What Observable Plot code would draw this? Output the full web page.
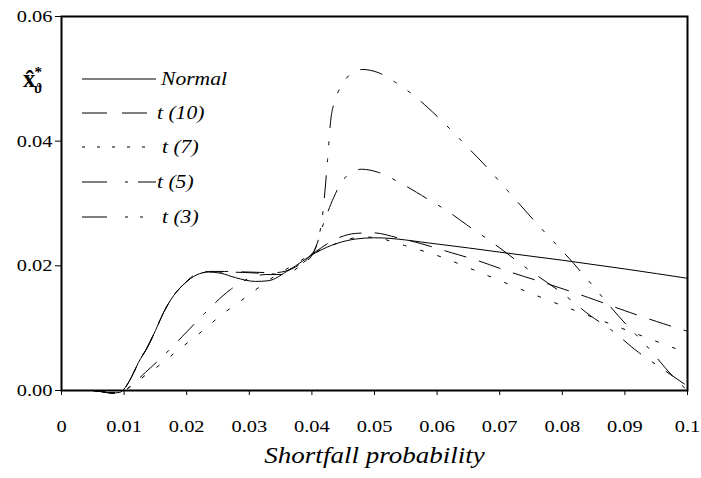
<!DOCTYPE html>
<html>
<head>
<meta charset="utf-8">
<script src="https://cdn.jsdelivr.net/npm/d3@7"></script>
<script src="https://cdn.jsdelivr.net/npm/@observablehq/plot@0.6"></script>
<style>
  html, body { margin: 0; padding: 0; background: #fff; }
  #chart { width: 701px; height: 478px; }
</style>
</head>
<body>
<div id="chart"></div>
<script>
// ---- data ----
const seriesNames = ["Normal", "t (10)", "t (7)", "t (5)", "t (3)"];

const normalX = [0.005,0.0065,0.008,0.0093,0.0102,0.0112,0.0123,0.0137,0.015,0.0163,0.0179,0.0198,0.0215,0.0235,0.0255,0.0278,0.031,0.033,0.0363,0.0406,0.044,0.047,0.05,0.06,0.07,0.08,0.09,0.1];
const normalY = [0,-0.0002,-0.0004,-0.0003,0.0005,0.0022,0.0045,0.0069,0.0096,0.0125,0.0152,0.0173,0.0185,0.019,0.0188,0.0181,0.0175,0.0176,0.0193,0.0221,0.0236,0.0243,0.0245,0.0235,0.0222,0.0209,0.0195,0.018];

const t10X = [0.005,0.0065,0.008,0.0093,0.0102,0.0112,0.0123,0.0137,0.015,0.0163,0.0179,0.0198,0.0215,0.0235,0.026,0.03,0.034,0.037,0.0405,0.0438,0.047,0.0498,0.0537,0.0573,0.0623,0.066,0.072,0.078,0.0842,0.09,0.0962,0.1];
const t10Y = [0,-0.0002,-0.0004,-0.0003,0.0005,0.0022,0.0045,0.0069,0.0096,0.0125,0.0152,0.0173,0.0187,0.0191,0.0191,0.019,0.0189,0.0196,0.0222,0.0243,0.0252,0.0253,0.0245,0.0236,0.0221,0.021,0.0189,0.017,0.0149,0.0128,0.0107,0.0095];

const t7X = [0.005,0.0065,0.008,0.0093,0.0105,0.0136,0.0161,0.0185,0.0211,0.0235,0.0259,0.0284,0.0308,0.034,0.037,0.04,0.044,0.047,0.05,0.053,0.056,0.059,0.0679,0.0767,0.085,0.1];
const t7Y = [0,-0.0002,-0.0004,-0.0003,0.0003,0.0026,0.0044,0.0064,0.0084,0.0104,0.0124,0.0142,0.016,0.0183,0.0201,0.0219,0.0236,0.0245,0.0246,0.0238,0.0229,0.022,0.0185,0.0149,0.0117,0.006];

const t5X = [0.005,0.0065,0.008,0.0093,0.0105,0.0134,0.0161,0.02,0.0227,0.027,0.03,0.0326,0.0355,0.038,0.0403,0.042,0.0435,0.0449,0.0462,0.0479,0.0506,0.0534,0.0567,0.059,0.0615,0.0647,0.0693,0.0746,0.08,0.0845,0.0877,0.0922,0.0952,0.1];
const t5Y = [0,-0.0002,-0.0004,-0.0003,0.0003,0.0029,0.0054,0.0094,0.0122,0.0162,0.018,0.0186,0.0186,0.0199,0.0222,0.0272,0.031,0.0337,0.0348,0.0355,0.035,0.0337,0.0318,0.0304,0.0289,0.0266,0.0234,0.0194,0.0156,0.012,0.0098,0.0061,0.004,0.0007];

const t3X = [0.005,0.0065,0.008,0.0093,0.0102,0.0112,0.0123,0.0137,0.015,0.0163,0.0179,0.0198,0.0215,0.0235,0.026,0.03,0.034,0.037,0.0398,0.0408,0.0418,0.0425,0.043,0.0438,0.045,0.0462,0.048,0.0506,0.0534,0.0558,0.0585,0.0605,0.0628,0.0649,0.0674,0.0714,0.0759,0.0818,0.0842,0.0901,0.0927,0.0986,0.1];
const t3Y = [0,-0.0002,-0.0004,-0.0003,0.0005,0.0022,0.0045,0.0069,0.0096,0.0125,0.0152,0.0173,0.0186,0.019,0.019,0.0189,0.0187,0.0197,0.0217,0.0235,0.029,0.037,0.0433,0.0468,0.0493,0.0508,0.0515,0.051,0.0494,0.0477,0.0454,0.0435,0.0412,0.039,0.0364,0.0319,0.0268,0.0204,0.0176,0.0107,0.008,0.0013,0];

const xTicks = [0,0.01,0.02,0.03,0.04,0.05,0.06,0.07,0.08,0.09,0.1];
const yTicks = [0,0.02,0.04,0.06];
const xLabel = "Shortfall probability";

const FONT = "\"Liberation Serif\", \"Times New Roman\", serif";
const STRETCH = 1.2;

// ---- build tables ----
const toRows = (xs, ys) => xs.map((x, i) => ({x, y: ys[i]}));
const series = [
  {name: seriesNames[0], rows: toRows(normalX, normalY), dash: null, legendDash: null},
  {name: seriesNames[1], rows: toRows(t10X, t10Y), dash: "22,14", legendDash: "25,15"},
  {name: seriesNames[2], rows: toRows(t7X, t7Y), dash: "3,15", legendDash: "3,12"},
  {name: seriesNames[3], rows: toRows(t5X, t5Y), dash: "22,14,3,14", legendDash: "25,18,3,10"},
  {name: seriesNames[4], rows: toRows(t3X, t3Y), dash: "22,14,3,14,3,14", legendDash: "25,18,3,12,3,100"}
];

const plot = Plot.plot({
  width: 701,
  height: 478,
  marginLeft: 61,
  marginRight: 14,
  marginTop: 16,
  marginBottom: 88,
  style: {fontFamily: FONT, fontSize: "17px", color: "black", background: "white", overflow: "visible"},
  x: {domain: [0, 0.1]},
  y: {domain: [0, 0.06]},
  marks: [
    ...series.map(s => Plot.line(s.rows, {
      x: "x", y: "y", curve: "monotone-x",
      stroke: "black", strokeWidth: 1,
      strokeDasharray: s.dash == null ? undefined : s.dash
    })),
    Plot.axisX({ticks: xTicks, tickFormat: d => d === 0 ? "0" : d === 0.1 ? "0.1" : d.toFixed(2),
      tickSize: 5, tickPadding: 24, label: null, fontSize: 17, fontFamily: FONT}),
    Plot.axisY({ticks: yTicks, tickFormat: d => d.toFixed(2), tickSize: 6, tickPadding: 3, label: null, fontSize: 17, fontFamily: FONT}),
    Plot.text([xLabel], {frameAnchor: "bottom", dy: 72, fontSize: 22.5, fontStyle: "italic", fontFamily: FONT, fill: "black"}),
    Plot.frame({stroke: "black", strokeWidth: 2})
  ]
});
document.getElementById("chart").appendChild(plot);

// ---- legend and y label (layout only) ----
const svg = d3.select(plot);
const legendY = [79, 113, 147, 182, 217];
const legendTextX = [161, 157, 162, 157, 162];
const g = svg.append("g");
series.forEach((s, i) => {
  const y = legendY[i];
  g.append("line").attr("x1", 82).attr("x2", 156).attr("y1", y).attr("y2", y)
    .attr("stroke", "black").attr("stroke-width", 1)
    .attr("stroke-dasharray", s.legendDash);
  g.append("text").attr("x", legendTextX[i]).attr("y", y).attr("dy", "0.32em")
    .attr("text-anchor", "start")
    .attr("font-family", FONT).attr("font-style", "italic").attr("font-size", 18)
    .attr("fill", "black").text(s.name);
});

// horizontal stretch of text to match reference proportions
plot.querySelectorAll("text").forEach(t => {
  const w = t.getComputedTextLength();
  if (w > 0) {
    t.setAttribute("textLength", (w * STRETCH).toFixed(1));
    t.setAttribute("lengthAdjust", "spacingAndGlyphs");
  }
});

const yl = svg.append("text").attr("x", 23).attr("y", 87).attr("text-anchor", "start")
  .attr("font-family", FONT).attr("font-weight", "bold").attr("font-size", 25).attr("fill", "black");
yl.append("tspan").text("x\u0302");
yl.append("tspan").attr("dy", -10).attr("dx", -1).attr("font-size", 15).text("*");
yl.append("tspan").attr("dy", 16).attr("dx", -8).attr("font-size", 14).text("\u03D1");
</script>
</body>
</html>
